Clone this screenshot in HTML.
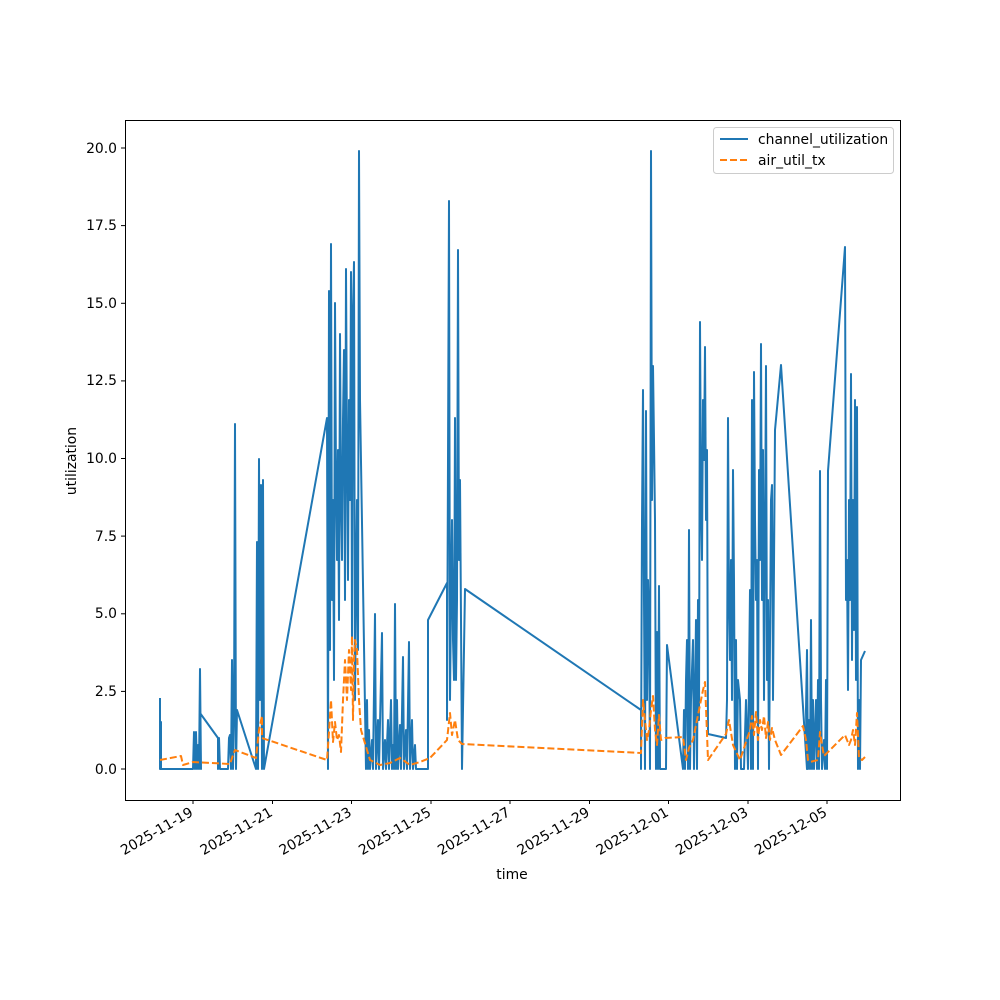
<!DOCTYPE html>
<html><head><meta charset="utf-8"><style>
body{margin:0;background:#fff}
svg{display:block;font-family:"DejaVu Sans","Liberation Sans",sans-serif}
</style></head><body>
<svg width="1000" height="1000" viewBox="0 0 1000 1000">
<rect width="1000" height="1000" fill="#fff"/>
<g fill="none" stroke-linejoin="round">
<polyline stroke="#1f77b4" stroke-width="2" points="
160,698 160,769 161,722 161,769 193,769 194,732 195,769 196,732 197,769 198,745 199,769 200,669 201,769 200,713 218,738 218,769 219,738 220,769 228,769 229,738 230,735 231,769 232,660 233,769 234,720 235,424 236,769 237,710 256,769 257,542 258,769 259,459 260,700 261,485 262,769 263,480 264,769 327,418 328,769 329,291 330,650 331,244 332,600 333,500 334,680 335,303 336,480 337,560 338,450 339,620 340,334 341,500 342,560 343,420 344,350 345,600 346,269 347,450 348,580 349,400 350,500 351,272 352,640 353,310 354,262 355,700 356,590 357,500 358,650 359,151 360,400 366,769 367,700 368,769 369,730 370,769 372,740 373,769 375,614 376,769 378,720 379,769 382,633 383,769 385,740 386,769 388,720 389,769 391,700 392,769 393,745 394,769 395,604 396,769 397,700 398,769 400,725 401,769 403,657 404,769 406,730 407,769 409,642 410,769 412,720 413,769 415,745 416,769 428,769 428,620 447,583 447,720 449,201 450,700 451,600 452,520 453,640 454,680 455,418 456,680 457,600 458,250 459,560 460,480 461,620 462,769 465,589 641,710 641,769 642,522 643,390 644,600 645,769 646,411 647,700 648,580 649,620 650,769 651,151 652,500 653,366 654,440 655,520 656,769 657,632 658,769 659,586 660,769 666,769 667,645 683,769 684,710 685,769 686,680 687,640 688,769 689,530 690,769 691,700 693,640 694,769 696,620 697,769 698,600 699,720 700,322 701,500 702,560 703,400 704,460 705,347 706,520 707,450 708,734 726,738 727,700 728,418 729,600 730,660 731,560 732,700 733,470 734,580 735,769 736,640 737,769 738,680 740,700 741,769 744,769 746,700 748,769 750,590 751,769 752,400 753,769 754,372 755,520 756,600 757,560 758,769 759,470 760,560 761,344 762,600 763,450 764,700 765,540 766,366 767,680 768,600 769,769 770,640 771,500 772,485 773,700 775,430 781,365 807,769 806,710 807,650 808,769 809,720 810,769 811,620 812,769 813,700 814,769 816,700 817,769 818,680 819,769 820,471 821,700 822,769 824,740 825,769 826,680 827,769 828,471 845,247 846,600 847,560 848,690 849,500 850,600 851,374 852,660 853,500 854,630 855,400 856,680 857,407 858,769 859,700 860,769 861,660 865,651"/>
<polyline stroke="#ff7f0e" stroke-width="2" stroke-dasharray="7,3" points="
160,760 181,756 183,765 193,762 230,764 233,755 235,750 256,758 259,730 262,716 262,738 327,760 329,732 331,700 333,742 335,722 337,740 339,735 341,752 343,700 345,660 347,700 349,650 351,690 352,636 353,720 354,660 355,640 357,650 359,700 361,730 370,760 380,765 390,763 400,758 410,765 420,762 430,758 447,740 450,713 452,735 455,720 458,740 462,744 641,753 643,700 645,720 647,740 649,730 651,710 653,696 655,730 657,745 659,715 661,740 665,738 683,737 686,760 689,748 693,740 700,705 703,690 705,682 708,760 726,734 729,720 733,745 740,760 745,745 750,730 752,716 754,735 756,712 758,740 760,720 762,730 764,716 766,738 768,722 770,740 772,728 775,740 781,755 803,726 806,740 808,760 810,762 818,760 820,732 822,745 824,756 845,735 849,745 851,740 853,730 855,745 857,713 859,758 862,760 865,757"/>
</g>
<rect x="125.5" y="120.5" width="775" height="680" fill="none" stroke="#000" stroke-width="1"/>
<g stroke="#000" stroke-width="1">
<line x1="121" x2="125" y1="769" y2="769"/><line x1="121" x2="125" y1="691.4" y2="691.4"/>
<line x1="121" x2="125" y1="613.8" y2="613.8"/><line x1="121" x2="125" y1="536.1" y2="536.1"/>
<line x1="121" x2="125" y1="458.5" y2="458.5"/><line x1="121" x2="125" y1="380.9" y2="380.9"/>
<line x1="121" x2="125" y1="303.3" y2="303.3"/><line x1="121" x2="125" y1="225.6" y2="225.6"/>
<line x1="121" x2="125" y1="148" y2="148"/>
</g>
<g font-size="13.9" text-anchor="end" fill="#000">
<text x="117" y="774">0.0</text><text x="117" y="696">2.5</text><text x="117" y="618">5.0</text>
<text x="117" y="541">7.5</text><text x="117" y="463">10.0</text><text x="117" y="385">12.5</text>
<text x="117" y="308">15.0</text><text x="117" y="230">17.5</text><text x="117" y="153">20.0</text>
</g>
<g stroke="#000" stroke-width="1">
<line x1="193" x2="193" y1="800" y2="804"/><line x1="272.5" x2="272.5" y1="800" y2="804"/>
<line x1="351.5" x2="351.5" y1="800" y2="804"/><line x1="431" x2="431" y1="800" y2="804"/>
<line x1="510" x2="510" y1="800" y2="804"/><line x1="589.5" x2="589.5" y1="800" y2="804"/>
<line x1="668.5" x2="668.5" y1="800" y2="804"/><line x1="748" x2="748" y1="800" y2="804"/>
<line x1="827" x2="827" y1="800" y2="804"/>
</g>
<g font-size="13.9" text-anchor="end" fill="#000">
<text transform="translate(194,815) rotate(-30)">2025-11-19</text>
<text transform="translate(273.5,815) rotate(-30)">2025-11-21</text>
<text transform="translate(352.5,815) rotate(-30)">2025-11-23</text>
<text transform="translate(432,815) rotate(-30)">2025-11-25</text>
<text transform="translate(511,815) rotate(-30)">2025-11-27</text>
<text transform="translate(590.5,815) rotate(-30)">2025-11-29</text>
<text transform="translate(669.5,815) rotate(-30)">2025-12-01</text>
<text transform="translate(749,815) rotate(-30)">2025-12-03</text>
<text transform="translate(828,815) rotate(-30)">2025-12-05</text>
</g>
<text x="512" y="879" font-size="13.9" text-anchor="middle">time</text>
<text transform="translate(76,461) rotate(-90)" font-size="13.9" text-anchor="middle">utilization</text>
<rect x="713.5" y="127.5" width="180" height="46" rx="3" fill="#fff" stroke="#ccc"/>
<line x1="720" x2="748" y1="139" y2="139" stroke="#1f77b4" stroke-width="2"/>
<line x1="720" x2="748" y1="160" y2="160" stroke="#ff7f0e" stroke-width="2" stroke-dasharray="7,3"/>
<text x="758" y="144" font-size="13.9">channel_utilization</text>
<text x="758" y="165" font-size="13.9">air_util_tx</text>
</svg>
</body></html>
